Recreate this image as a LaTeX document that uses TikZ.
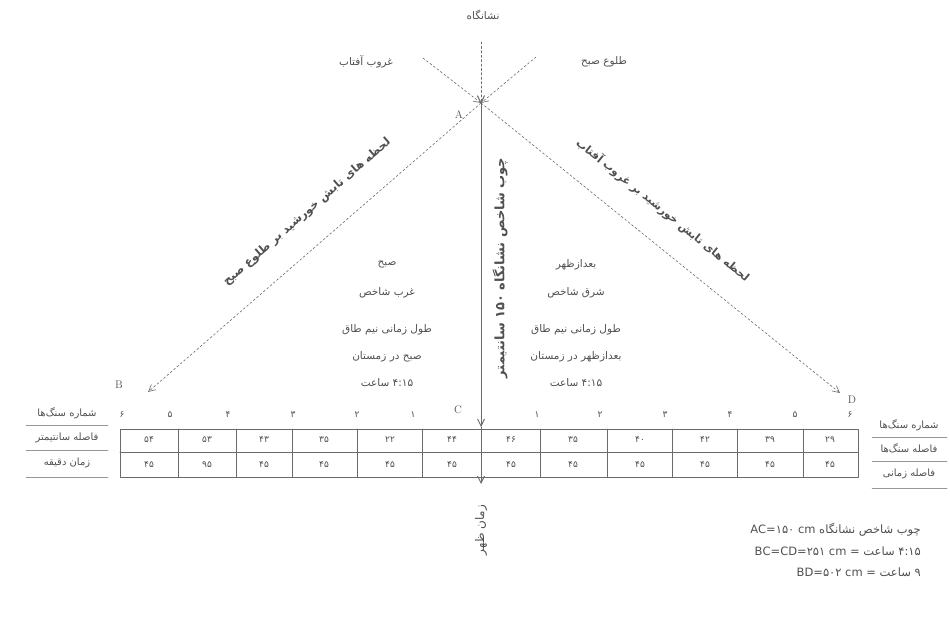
\documentclass[tikz,border=0pt]{standalone}
\usepackage{fontspec}
\usepackage{tikz}
\usetikzlibrary{arrows.meta,positioning,calc}
\TeXXeTstate=1
\newfontfamily\farsi[Script=Arabic]{DejaVu Sans}
\newcommand\fatxt[1]{\farsi\beginR #1\endR}
\definecolor{pen}{HTML}{6A6A6A}
\definecolor{ink}{HTML}{505050}
\tikzset{
    every picture/.style={line cap=round,line join=round},
    guide/.style={draw=pen,line width=0.6pt,dash pattern=on 2.2pt off 2.2pt},
    rayarrow/.style={-{Straight Barb[length=2.4mm,width=2.4mm]}},
    gnomon/.style={draw=pen,line width=1pt},
    fatext/.style={text=ink,font=\fontsize{10.5}{12}\selectfont,inner sep=1pt,align=center},
    smalltext/.style={text=ink,font=\fontsize{10}{12}\selectfont,inner sep=1pt},
    slanttext/.style={text=ink,font=\fontsize{11.5}{14}\selectfont\bfseries,inner sep=1pt},
    cellnum/.style={text=ink,font=\fontsize{9}{11}\selectfont,inner sep=0.5pt},
    pointlabel/.style={text=ink,font=\fontsize{11}{13}\selectfont,inner sep=1pt},
    rowline/.style={draw=pen!70,line width=0.5pt}
}
\begin{document}
\begin{tikzpicture}[x=1pt,y=-1pt]
  \useasboundingbox (0,0) rectangle (950,617);
  % sun and gnomon points
  \coordinate (A) at (481,103);
  \coordinate (B) at (148,392);
  \coordinate (C) at (481,427);
  \coordinate (D) at (840,393);
  \coordinate (E) at (481,484);
  \coordinate (top) at (481,42);
  \coordinate (setdir) at (423,58);
  \coordinate (risedir) at (536,57);

  \node[fatext] (nishangah) at (483,15) {\fatxt{نشانگاه}};
  \node[fatext] (sunset) at (366,62) {\fatxt{غروب آفتاب}};
  \node[fatext] (sunrise) at (604,62) {\fatxt{طلوع صبح}};

  \draw[guide,rayarrow] (top) -- (A);
  \draw[guide,rayarrow] (setdir) -- (A);
  \draw[guide,rayarrow] (risedir) -- (A);
  \draw[guide,rayarrow] (A) -- (B);
  \draw[guide,rayarrow] (A) -- (D);
  \draw[gnomon,rayarrow] (A) -- (C);
  \draw[gnomon,rayarrow] (C) -- (E);

  \node[pointlabel] (Alab) at (459,115) {A};
  \node[pointlabel] (Blab) at (119,385) {B};
  \node[pointlabel] (Clab) at (458,410) {C};
  \node[pointlabel] (Dlab) at (852,400) {D};

  % labels along the rays
  \node[slanttext,rotate=41] (mornray) at (307,212) {\fatxt{لحظه های تابش خورشید بر طلوع صبح}};
  \node[slanttext,font=\fontsize{11}{13}\selectfont\bfseries,rotate=-39] (noonray) at (663,210)
    {\fatxt{لحظه های تابش خورشید بر غروب آفتاب}};
  \node[slanttext,font=\fontsize{13}{15}\selectfont\bfseries,rotate=90] (gnomonlab) at (500,268)
    {\fatxt{چوب شاخص نشانگاه ۱۵۰ سانتیمتر}};
  \node[fatext,font=\fontsize{12}{14}\selectfont,rotate=90] (noonlab) at (481,530) {\fatxt{زمان ظهر}};

  % the two half arcs
  \node[fatext] (morn1) at (387,265) {\fatxt{صبح}};
  \node[fatext] (morn2) at (387,293) {\fatxt{غرب شاخص}};
  \node[fatext] (morn3) at (387,330) {\fatxt{طول زمانی نیم طاق}};
  \node[fatext] (morn4) at (387,357) {\fatxt{صبح در زمستان}};
  \node[fatext] (morn5) at (387,383) {\fatxt{۴:۱۵ ساعت}};
  \node[fatext] (aft1) at (576,265) {\fatxt{بعدازظهر}};
  \node[fatext] (aft2) at (576,293) {\fatxt{شرق شاخص}};
  \node[fatext] (aft3) at (576,330) {\fatxt{طول زمانی نیم طاق}};
  \node[fatext] (aft4) at (576,357) {\fatxt{بعدازظهر در زمستان}};
  \node[fatext] (aft5) at (576,383) {\fatxt{۴:۱۵ ساعت}};

  % stones table
  \draw[pen,line width=0.6pt] (120,429) rectangle (858,477);
  \draw[pen,line width=0.6pt] (120,452) -- (858,452);
  \foreach \x in {178,236,292,357,422,540,607,672,737,803}
    \draw[pen,line width=0.6pt] (\x,429) -- (\x,477);
  \foreach \x/\n in {122/۶,170/۵,228/۴,293/۳,357/۲,413/۱,537/۱,600/۲,665/۳,730/۴,795/۵,850/۶}
    \node[cellnum] at (\x,415) {\farsi \n};
  \foreach \x/\a/\b in {149/۵۴/۴۵,207/۵۳/۹۵,264/۴۳/۴۵,324/۳۵/۴۵,390/۲۲/۴۵,452/۴۴/۴۵,
      511/۴۶/۴۵,573/۳۵/۴۵,640/۴۰/۴۵,705/۴۲/۴۵,770/۳۹/۴۵,830/۲۹/۴۵}{
    \node[cellnum] at (\x,440) {\farsi \a};
    \node[cellnum] at (\x,465) {\farsi \b};
  }

  % row titles
  \node[smalltext] (lrow1) at (67,413) {\fatxt{شماره سنگ‌ها}};
  \node[smalltext] (lrow2) at (67,438) {\fatxt{فاصله سانتیمتر}};
  \node[smalltext] (lrow3) at (67,463) {\fatxt{زمان دقیقه}};
  \foreach \y in {425,450,477}
    \draw[rowline] (26,\y) -- (108,\y);
  \node[smalltext] (rrow1) at (909,425) {\fatxt{شماره سنگ‌ها}};
  \node[smalltext] (rrow2) at (909,448) {\fatxt{فاصله سنگ‌ها}};
  \node[smalltext] (rrow3) at (909,474) {\fatxt{فاصله زمانی}};
  \foreach \y in {437,461,488}
    \draw[rowline] (872,\y) -- (947,\y);

  % notes
  \node[smalltext,font=\fontsize{11.5}{13}\selectfont,anchor=east] (note1) at (922,530)
    {\fatxt{چوب شاخص نشانگاه \beginL AC=۱۵۰ cm\endL{}}};
  \node[smalltext,font=\fontsize{11.5}{13}\selectfont,anchor=east] (note2) at (922,551)
    {\fatxt{۴:۱۵ ساعت = \beginL BC=CD=۲۵۱ cm\endL{}}};
  \node[smalltext,font=\fontsize{11.5}{13}\selectfont,anchor=east] (note3) at (922,572)
    {\fatxt{۹ ساعت = \beginL BD=۵۰۲ cm\endL{}}};
\end{tikzpicture}
\end{document}
